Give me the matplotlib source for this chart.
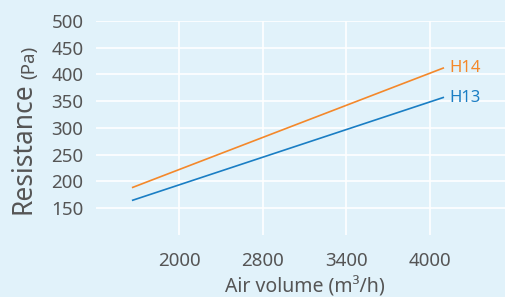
import matplotlib
matplotlib.use("Agg")
import matplotlib.pyplot as plt

# tick categories on the x axis (evenly spaced in the chart)
x_ticks = ["2000", "2800", "3400", "4000"]
y_ticks = [150, 200, 250, 300, 350, 400, 450, 500]

# line end points, x in tick-slot units (0 = "2000")
x_pos = [-0.56, 3.16]
h13 = [165, 357]
h14 = [189, 412]

bg = "#e1f2fa"
txt = "#555555"
c_h13 = "#1a7ec4"
c_h14 = "#f4882a"

plt.rcParams["font.family"] = ["Noto Sans", "DejaVu Sans"]

fig = plt.figure(figsize=(5.05, 2.97), dpi=100, facecolor=bg)
ax = fig.add_axes([96 / 505, 1 - 235 / 297, 1 - 96 / 505, 214 / 297])
ax.set_facecolor(bg)

ax.plot(x_pos, h14, color=c_h14, lw=1.2)
ax.plot(x_pos, h13, color=c_h13, lw=1.2)
ax.text(x_pos[1] + 0.07, h14[1], "H14", color=c_h14, fontsize=12, va="center")
ax.text(x_pos[1] + 0.07, h13[1], "H13", color=c_h13, fontsize=12, va="center")

ax.set_xlim(-1, 3.9)
ax.set_ylim(100, 500)
ax.set_xticks(range(len(x_ticks)))
ax.set_xticklabels(x_ticks)
ax.set_yticks(y_ticks)
ax.grid(True, color="white", lw=1.2)
ax.set_axisbelow(True)
for s in ax.spines.values():
    s.set_visible(False)
ax.tick_params(length=0, labelsize=13.5, labelcolor=txt)
ax.tick_params(axis="x", pad=12)
ax.tick_params(axis="y", pad=9)

# y axis label: big "Resistance" + small "(Pa)"
t1 = fig.text(38 / 505, 1 - 214 / 297, "Resistance", rotation=90, fontsize=19,
              color=txt, ha="right", va="bottom")
fig.canvas.draw()
bb = t1.get_window_extent()
fig.text(38 / 505, bb.y1 / fig.bbox.height + 0.012, "(Pa)", rotation=90,
         fontsize=13.5, color=txt, ha="right", va="bottom")

fig.text(305 / 505, 1 - 287 / 297, "Air volume (m³/h)", fontsize=14,
         color=txt, ha="center", va="center")

fig.savefig("out.png", dpi=100, facecolor=bg)
